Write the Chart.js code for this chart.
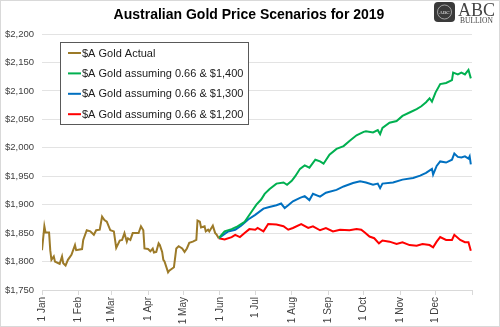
<!DOCTYPE html>
<html>
<head>
<meta charset="utf-8">
<script src="https://cdn.jsdelivr.net/npm/chart.js@4/dist/chart.umd.min.js"></script>
<style>
    html, body { margin: 0; padding: 0; background: #fff; }
    #wrap { width: 500px; height: 327px; position: relative; }
</style>
</head>
<body>
<div id="wrap"><canvas id="chartGold" width="500" height="327"></canvas></div>
<script>
// Sumbu X: hari ke-n dalam tahun 2019
const monthLabels = ['1 Jan', '1 Feb', '1 Mar', '1 Apr', '1 May', '1 Jun', '1 Jul', '1 Aug', '1 Sep', '1 Oct', '1 Nov', '1 Dec'];
const monthDays = [0, 31, 59, 90, 120, 151, 181, 212, 243, 273, 304, 334];
const yTicks = [1750, 1800, 1850, 1900, 1950, 2000, 2050, 2100, 2150, 2200];

const seriesLabels = ['$A Gold Actual', '$A Gold assuming 0.66 & $1,400', '$A Gold assuming 0.66 & $1,300', '$A Gold assuming 0.66 & $1,200'];
const seriesColors = ['#9C7A28', '#00B050', '#0070C0', '#FF0000'];

// $A Gold Actual
const actualDays = [0, 2, 3, 6, 7, 8, 10, 11, 14, 15, 17, 18, 20, 22, 25, 28, 29, 34, 35, 38, 41, 44, 46, 49, 51, 53, 55, 58, 61, 63, 66, 68, 70, 72, 73, 75, 77, 82, 84, 86, 87, 90, 92, 94, 95, 97, 99, 100, 102, 103, 104, 107, 108, 110, 112, 114, 116, 119, 121, 123, 125, 128, 131, 132, 134, 135, 138, 139, 141, 142, 145, 147, 148, 150];
const actualValues = [1820, 1862, 1851, 1851, 1820, 1803, 1809, 1800, 1797, 1796, 1809, 1797, 1793, 1803, 1812, 1829, 1820, 1822, 1838, 1855, 1853, 1847, 1855, 1856, 1879, 1873, 1870, 1855, 1853, 1824, 1837, 1838, 1850, 1835, 1841, 1838, 1850, 1850, 1862, 1855, 1823, 1822, 1818, 1823, 1816, 1817, 1832, 1829, 1817, 1803, 1800, 1781, 1784, 1787, 1790, 1823, 1827, 1823, 1817, 1823, 1833, 1835, 1838, 1872, 1870, 1860, 1862, 1853, 1856, 1853, 1863, 1850, 1848, 1841];

// Skenario USD 1,400
const highDays = [150, 155, 161, 166, 172, 178, 182, 186, 189, 193, 199, 205, 208, 212, 215, 219, 223, 227, 232, 236, 239, 244, 250, 256, 261, 267, 273, 275, 281, 285, 287, 289, 295, 301, 306, 312, 318, 322, 326, 329, 331, 334, 338, 343, 348, 349, 353, 356, 359, 362, 364];
const highValues = [1841, 1853, 1857, 1862, 1870, 1888, 1900, 1909, 1919, 1927, 1937, 1939, 1935, 1942, 1950, 1963, 1969, 1965, 1979, 1976, 1972, 1988, 1998, 2003, 2012, 2022, 2028, 2029, 2027, 2031, 2024, 2035, 2044, 2047, 2056, 2062, 2068, 2073, 2080, 2087, 2081, 2097, 2112, 2114, 2119, 2132, 2129, 2132, 2129, 2137, 2122];

// Skenario USD 1,300
const midDays = [150, 158, 164, 169, 175, 181, 188, 193, 199, 203, 206, 209, 213, 219, 223, 227, 230, 236, 241, 250, 256, 264, 270, 275, 281, 285, 287, 289, 298, 306, 315, 321, 326, 331, 332, 335, 338, 343, 348, 350, 353, 356, 359, 362, 363, 364];
const midValues = [1841, 1853, 1856, 1863, 1874, 1882, 1893, 1896, 1899, 1902, 1894, 1899, 1906, 1912, 1915, 1908, 1919, 1914, 1921, 1926, 1932, 1938, 1941, 1939, 1935, 1937, 1929, 1937, 1939, 1944, 1947, 1951, 1956, 1963, 1953, 1968, 1976, 1974, 1979, 1990, 1984, 1983, 1985, 1981, 1985, 1971];

// Skenario USD 1,200
const lowDays = [150, 155, 161, 164, 168, 172, 176, 181, 183, 188, 192, 199, 205, 209, 213, 220, 226, 230, 236, 241, 247, 253, 261, 267, 271, 274, 278, 282, 286, 289, 295, 301, 306, 312, 318, 323, 329, 332, 335, 338, 343, 348, 350, 355, 359, 362, 364];
const lowValues = [1841, 1839, 1843, 1847, 1843, 1850, 1857, 1856, 1859, 1853, 1866, 1865, 1862, 1856, 1859, 1866, 1859, 1862, 1855, 1859, 1853, 1856, 1855, 1857, 1856, 1851, 1844, 1841, 1832, 1837, 1835, 1831, 1834, 1829, 1828, 1831, 1829, 1825, 1835, 1843, 1838, 1838, 1847, 1838, 1834, 1834, 1819];

function toPoints(days, values) {
    return days.map((d, i) => ({ x: d, y: values[i] }));
}

const seriesPoints = [
    toPoints(actualDays, actualValues),
    toPoints(highDays, highValues),
    toPoints(midDays, midValues),
    toPoints(lowDays, lowValues)
];

const AXIS_FONT = 'Arial, "Liberation Sans", sans-serif';

/* Bingkai, judul dan logo */
const decorPlugin = {
    id: 'decor',
    beforeDraw(chart) {
        const ctx = chart.ctx;
        ctx.save();
        ctx.fillStyle = '#fff';
        ctx.fillRect(0, 0, chart.width, chart.height);
        ctx.restore();
    },
    afterDraw(chart) {
        const ctx = chart.ctx;
        ctx.save();
        // bingkai
        ctx.strokeStyle = '#d9d9d9';
        ctx.lineWidth = 1;
        ctx.strokeRect(0.5, 0.5, chart.width - 1, chart.height - 1);

        // judul
        ctx.fillStyle = '#000';
        ctx.font = 'bold 14px ' + AXIS_FONT;
        ctx.textAlign = 'center';
        ctx.textBaseline = 'middle';
        ctx.fillText('Australian Gold Price Scenarios for 2019', 249, 15);

        // logo ABC Bullion
        ctx.fillStyle = '#3a3a3a';
        ctx.beginPath();
        ctx.roundRect(434, 2, 21, 20, 4);
        ctx.fill();
        ctx.strokeStyle = '#bbb';
        ctx.lineWidth = 0.8;
        ctx.beginPath();
        ctx.arc(444.5, 12, 7, 0, Math.PI * 2);
        ctx.stroke();
        ctx.fillStyle = '#eee';
        ctx.font = '5px "Liberation Serif", serif';
        ctx.fillText('ABC', 444.5, 12.5);

        ctx.fillStyle = '#444';
        ctx.textAlign = 'left';
        ctx.textBaseline = 'alphabetic';
        ctx.font = '18px "Liberation Serif", serif';
        ctx.fillText('ABC', 458, 16);
        ctx.font = '7.5px "Liberation Serif", serif';
        ctx.fillText('BULLION', 460, 23);
        ctx.restore();
    }
};

/* Legend kustom di dalam area grafik */
const boxLegendPlugin = {
    id: 'boxLegend',
    afterDraw(chart) {
        const ctx = chart.ctx;
        ctx.save();
        ctx.fillStyle = '#fff';
        ctx.fillRect(60, 42, 189, 83);
        ctx.strokeStyle = '#595959';
        ctx.lineWidth = 1;
        ctx.strokeRect(60.5, 42.5, 188, 82);
        ctx.font = '11px ' + AXIS_FONT;
        ctx.textBaseline = 'middle';
        ctx.textAlign = 'left';
        chart.data.datasets.forEach((ds, i) => {
            const y = 53 + i * 20.4;
            ctx.strokeStyle = ds.borderColor;
            ctx.lineWidth = 2;
            ctx.beginPath();
            ctx.moveTo(68, y);
            ctx.lineTo(81, y);
            ctx.stroke();
            ctx.fillStyle = '#1a1a1a';
            ctx.fillText(ds.label, 82, y + 0.5);
        });
        ctx.restore();
    }
};

new Chart(document.getElementById('chartGold'), {
    type: 'line',
    data: {
        datasets: seriesLabels.map((label, i) => ({
            label: label,
            data: seriesPoints[i],
            borderColor: seriesColors[i],
            backgroundColor: seriesColors[i],
            borderWidth: 2,
            pointRadius: 0,
            tension: 0,
            fill: false
        }))
    },
    options: {
        responsive: false,
        devicePixelRatio: 1,
        animation: false,
        layout: { padding: { top: 34, right: 28, left: 0, bottom: 0 } },
        plugins: {
            legend: { display: false },
            title: { display: false },
            tooltip: { enabled: false }
        },
        scales: {
            x: {
                type: 'linear',
                min: 0,
                max: 365,
                afterBuildTicks: (scale) => {
                    scale.ticks = monthDays.concat([365]).map(v => ({ value: v }));
                },
                afterFit: (scale) => { scale.height = 37; },
                ticks: {
                    autoSkip: false,
                    minRotation: 90,
                    maxRotation: 90,
                    padding: 2,
                    color: '#404040',
                    font: { family: AXIS_FONT, size: 10 },
                    callback: (value) => {
                        const idx = monthDays.indexOf(value);
                        return idx >= 0 ? monthLabels[idx] : '';
                    }
                },
                grid: { drawOnChartArea: false, tickLength: 5, color: '#d9d9d9' },
                border: { color: '#d9d9d9' }
            },
            y: {
                min: yTicks[0],
                max: yTicks[yTicks.length - 1],
                afterBuildTicks: (scale) => {
                    scale.ticks = yTicks.map(v => ({ value: v }));
                },
                afterFit: (scale) => { scale.width = 42; },
                ticks: {
                    padding: 8,
                    color: '#404040',
                    font: { family: AXIS_FONT, size: 9.5 },
                    callback: (value) => '$' + value.toLocaleString('en-US')
                },
                grid: { color: '#e3e3e3', drawTicks: false, lineWidth: 1 },
                border: { display: false }
            }
        }
    },
    plugins: [decorPlugin, boxLegendPlugin]
});
</script>
</body>
</html>
